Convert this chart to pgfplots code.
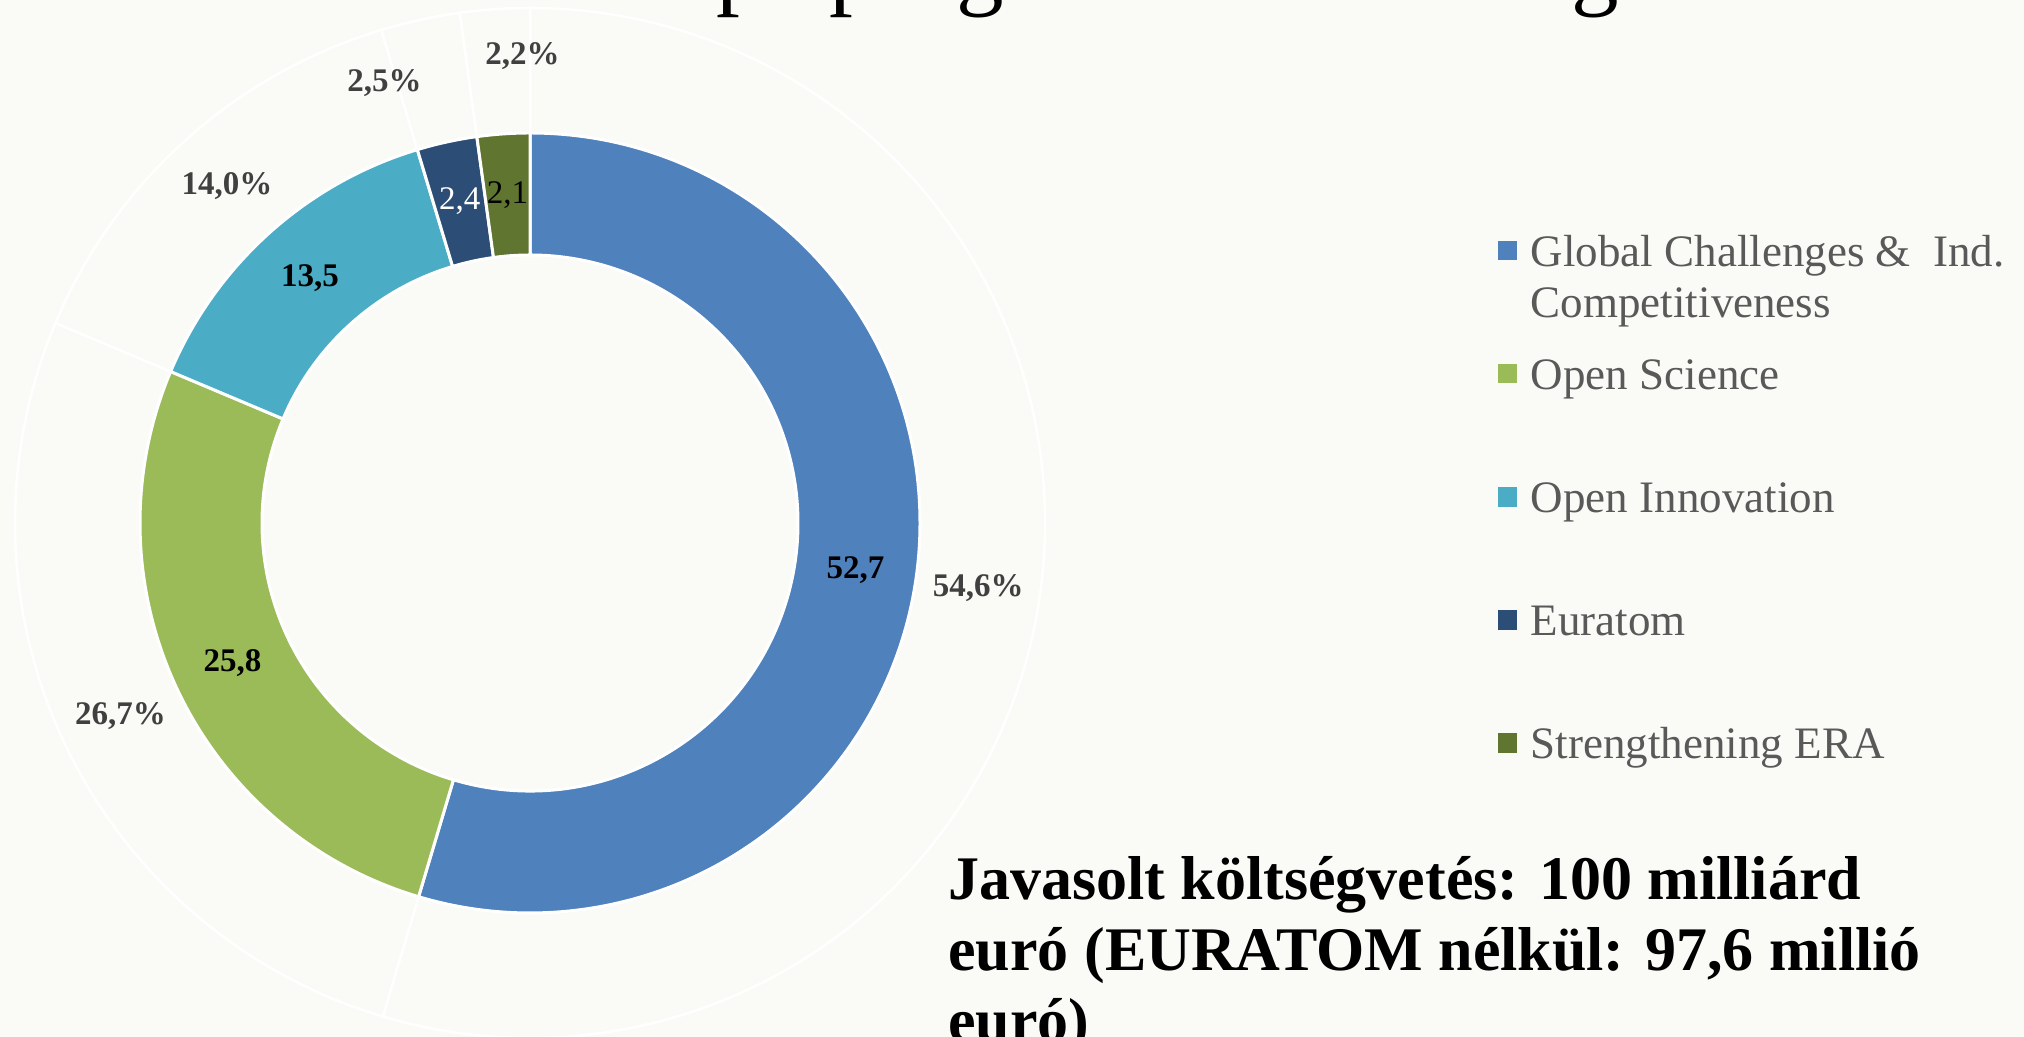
\documentclass[border=0pt]{standalone}
\usepackage{pgfplots}
\pgfplotsset{compat=1.18}
\usepackage{pgfplotstable}
\usepackage{fontspec}
\setmainfont{Liberation Serif}
\usetikzlibrary{calc}
\pgfkeys{/pgf/number format/assume math mode=true}

\definecolor{bg}{RGB}{250,251,246}
\definecolor{cGlob}{RGB}{79,129,189}
\definecolor{cOS}{RGB}{155,187,89}
\definecolor{cOI}{RGB}{75,172,198}
\definecolor{cEur}{RGB}{44,77,117}
\definecolor{cERA}{RGB}{95,117,48}
\definecolor{lbl}{RGB}{64,64,64}
\definecolor{leg}{RGB}{89,89,89}
\colorlet{seg0}{cGlob}
\colorlet{seg1}{cOS}
\colorlet{seg2}{cOI}
\colorlet{seg3}{cEur}
\colorlet{seg4}{cERA}

% value (billion EUR), share (%), outer-label angle offset (deg), radial offset (px)
\pgfplotstableread{
val  pct  da  dr
52.7 54.6  0   0
25.8 26.7  0   0
13.5 14.0  0   0
2.4  2.5   6  10
2.1  2.2  -3  14
}\donut

\tikzset{
  ilab0/.style={text=black, font=\fontsize{16.5}{19}\selectfont\bfseries},
  ilab1/.style={ilab0},
  ilab2/.style={ilab0},
  ilab3/.style={text=white, font=\fontsize{16.5}{19}\selectfont},
  ilab4/.style={text=black, font=\fontsize{16.5}{19}\selectfont},
}

\begin{document}
\begin{tikzpicture}
\clip[use as bounding box] (0,0) rectangle (1012pt,518.5pt);
\fill[bg] (0,0) rectangle (1012pt,518.5pt);

% ---- angles from the data ----
\gdef\dtotal{0}
\foreach \i in {0,...,4}{%
  \pgfplotstablegetelem{\i}{val}\of\donut
  \pgfmathsetmacro\dtmp{\dtotal+\pgfplotsretval}%
  \xdef\dtotal{\dtmp}%
}
\gdef\dcum{0}
\foreach \i in {0,...,4}{%
  \pgfplotstablegetelem{\i}{val}\of\donut
  \let\dval\pgfplotsretval
  \pgfmathsetmacro\dstart{90-(\dcum/\dtotal)*360}%
  \pgfmathsetmacro\dnext{\dcum+\dval}%
  \pgfmathsetmacro\dend{90-(\dnext/\dtotal)*360}%
  \pgfmathsetmacro\dmid{(\dstart+\dend)/2}%
  \pgfplotstablegetelem{\i}{da}\of\donut
  \pgfmathsetmacro\dlab{\dmid+\pgfplotsretval}%
  \pgfplotstablegetelem{\i}{dr}\of\donut
  \pgfmathsetmacro\drad{226.5+0.5*\pgfplotsretval}%
  \pgfplotstablegetelem{\i}{pct}\of\donut
  \let\dpct\pgfplotsretval
  \expandafter\xdef\csname dS\i\endcsname{\dstart}%
  \expandafter\xdef\csname dE\i\endcsname{\dend}%
  \expandafter\xdef\csname dM\i\endcsname{\dmid}%
  \expandafter\xdef\csname dV\i\endcsname{\dval}%
  \expandafter\xdef\csname dP\i\endcsname{\dpct}%
  \expandafter\xdef\csname dL\i\endcsname{\dlab}%
  \expandafter\xdef\csname dR\i\endcsname{\drad}%
  \xdef\dcum{\dnext}%
}

\begin{axis}[
  at={(0,0)}, anchor=south west,
  scale only axis, width=1012pt, height=518.5pt,
  xmin=0, xmax=2024, ymin=0, ymax=1037,
  hide axis, clip=false,
  legend image code/.code={%
    \fill[#1, draw=none] (0pt,-5.2pt) rectangle (9.7pt,4.5pt);},
  legend cell align=left,
  legend style={at={(0.7399,0.7776)}, anchor=north west,
    draw=none, fill=none, inner sep=0pt, outer sep=0pt,
    row sep=42.2pt, column sep=7pt,
    font=\fontsize{22.5}{25.5}\selectfont, text=leg,
    nodes={inner sep=0pt}},
]
\coordinate (C) at (axis cs:530,514);

% outer (share) ring: transparent segments with white outlines
\pgfplotsinvokeforeach{0,...,4}{
  \filldraw[fill=bg, draw=white, line width=1.25pt]
    ($(C)+(\csname dS#1\endcsname:257.5pt)$)
    arc[start angle=\csname dS#1\endcsname, end angle=\csname dE#1\endcsname, radius=257.5pt]
    -- ($(C)+(\csname dE#1\endcsname:195pt)$)
    arc[start angle=\csname dE#1\endcsname, end angle=\csname dS#1\endcsname, radius=195pt]
    -- cycle;
}
% inner (value) ring
\pgfplotsinvokeforeach{0,...,4}{
  \filldraw[fill=seg#1, draw=white, line width=1.5pt]
    ($(C)+(\csname dS#1\endcsname:195pt)$)
    arc[start angle=\csname dS#1\endcsname, end angle=\csname dE#1\endcsname, radius=195pt]
    -- ($(C)+(\csname dE#1\endcsname:134pt)$)
    arc[start angle=\csname dE#1\endcsname, end angle=\csname dS#1\endcsname, radius=134pt]
    -- cycle;
}
% labels
\pgfplotsinvokeforeach{0,...,4}{
  \node[ilab#1, inner sep=0pt, anchor=center]
    at ($(C)+(\csname dM#1\endcsname:164.5pt)$)
    {\pgfmathprintnumber[use comma,fixed,fixed zerofill,precision=1]{\csname dV#1\endcsname}};
  \node[text=lbl, font=\fontsize{16.5}{19}\selectfont\bfseries, inner sep=0pt, anchor=center]
    at ($(C)+(\csname dL#1\endcsname:\csname dR#1\endcsname pt)$)
    {\pgfmathprintnumber[use comma,fixed,fixed zerofill,precision=1]{\csname dP#1\endcsname}\%};
}

% legend
\addlegendimage{fill=cGlob}
\addlegendentry{\strut\smash{\begin{tabular}[t]{@{}l@{}}Global Challenges \& \ Ind.\\Competitiveness\end{tabular}}}
\addlegendimage{fill=cOS}
\addlegendentry{\strut Open Science}
\addlegendimage{fill=cOI}
\addlegendentry{\strut Open Innovation}
\addlegendimage{fill=cEur}
\addlegendentry{\strut Euratom}
\addlegendimage{fill=cERA}
\addlegendentry{\strut Strengthening ERA}

% title (cut off by the top edge) and budget note (cut off by the bottom edge)
\node[anchor=base west, inner sep=0pt, font=\fontsize{47.5}{57}\selectfont]
  at (axis cs:170,1039) {Horizont Európa program és a költségvetés};
\node[anchor=base west, inner sep=0pt, font=\fontsize{31}{35.5}\selectfont\bfseries]
  at (axis cs:948,137) {Javasolt költségvetés: 100 milliárd};
\node[anchor=base west, inner sep=0pt, font=\fontsize{31}{35.5}\selectfont\bfseries]
  at (axis cs:948,66) {euró (EURATOM nélkül: 97,6 millió};
\node[anchor=base west, inner sep=0pt, font=\fontsize{31}{35.5}\selectfont\bfseries]
  at (axis cs:948,-5) {euró)};
\end{axis}
\end{tikzpicture}
\end{document}
